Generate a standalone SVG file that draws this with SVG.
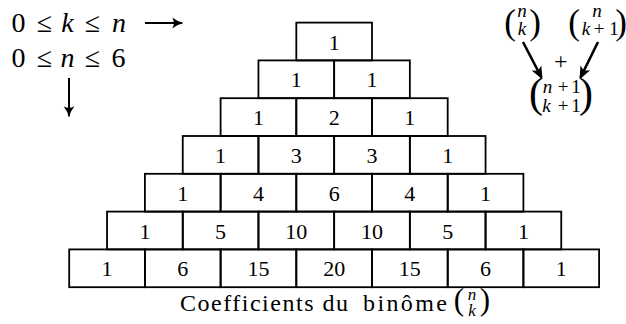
<svg xmlns="http://www.w3.org/2000/svg" width="626" height="324" viewBox="0 0 626 324">
<style>
svg text, #diagram text, text.s { font-family: 'Liberation Serif', 'Times New Roman', serif !important; fill: #000; }
.box rect { fill: none; stroke: #000; stroke-width: 1.8; }
.box text { font-size: 22px; text-anchor: middle; }
.m { text-anchor: middle; }
.i { font-style: italic; }
</style>
<defs>
<marker id="ah" viewBox="0 0 12 12" refX="10" refY="6" markerWidth="13" markerHeight="13" markerUnits="userSpaceOnUse" orient="auto">
<path d="M1,1 Q6,5 11.5,6 Q6,7 1,11 Q4,6 1,1 Z" fill="#000"/>
</marker>
<marker id="ah2" viewBox="0 0 12 12" refX="10" refY="6" markerWidth="13" markerHeight="13" markerUnits="userSpaceOnUse" orient="auto">
<path d="M0,1 L12,6 L0,11 L3,6 Z" fill="#000"/>
</marker>
</defs>
<rect width="626" height="324" fill="#fff"/>
<g id="diagram">
<g id="r0c0" class="box"><rect x="296.3" y="22.6" width="75.7" height="37.8"/><text class="s" x="334.15" y="49.6" font-family="Liberation Serif">1</text></g>

<g id="r1c0" class="box"><rect x="258.45" y="60.4" width="75.7" height="37.8"/><text class="s" x="296.3" y="87.4" font-family="Liberation Serif">1</text></g>
<g id="r1c1" class="box"><rect x="334.15" y="60.4" width="75.7" height="37.8"/><text class="s" x="372" y="87.4" font-family="Liberation Serif">1</text></g>

<g id="r2c0" class="box"><rect x="220.6" y="98.2" width="75.7" height="37.8"/><text class="s" x="258.45" y="125.2" font-family="Liberation Serif">1</text></g>
<g id="r2c1" class="box"><rect x="296.3" y="98.2" width="75.7" height="37.8"/><text class="s" x="334.15" y="125.2" font-family="Liberation Serif">2</text></g>
<g id="r2c2" class="box"><rect x="372" y="98.2" width="75.7" height="37.8"/><text class="s" x="409.85" y="125.2" font-family="Liberation Serif">1</text></g>

<g id="r3c0" class="box"><rect x="182.75" y="136" width="75.7" height="37.8"/><text class="s" x="220.6" y="163" font-family="Liberation Serif">1</text></g>
<g id="r3c1" class="box"><rect x="258.45" y="136" width="75.7" height="37.8"/><text class="s" x="296.3" y="163" font-family="Liberation Serif">3</text></g>
<g id="r3c2" class="box"><rect x="334.15" y="136" width="75.7" height="37.8"/><text class="s" x="372" y="163" font-family="Liberation Serif">3</text></g>
<g id="r3c3" class="box"><rect x="409.85" y="136" width="75.7" height="37.8"/><text class="s" x="447.7" y="163" font-family="Liberation Serif">1</text></g>

<g id="r4c0" class="box"><rect x="144.9" y="173.8" width="75.7" height="37.8"/><text class="s" x="182.75" y="200.8" font-family="Liberation Serif">1</text></g>
<g id="r4c1" class="box"><rect x="220.6" y="173.8" width="75.7" height="37.8"/><text class="s" x="258.45" y="200.8" font-family="Liberation Serif">4</text></g>
<g id="r4c2" class="box"><rect x="296.3" y="173.8" width="75.7" height="37.8"/><text class="s" x="334.15" y="200.8" font-family="Liberation Serif">6</text></g>
<g id="r4c3" class="box"><rect x="372" y="173.8" width="75.7" height="37.8"/><text class="s" x="409.85" y="200.8" font-family="Liberation Serif">4</text></g>
<g id="r4c4" class="box"><rect x="447.7" y="173.8" width="75.7" height="37.8"/><text class="s" x="485.55" y="200.8" font-family="Liberation Serif">1</text></g>

<g id="r5c0" class="box"><rect x="107.05" y="211.6" width="75.7" height="37.8"/><text class="s" x="144.9" y="238.6" font-family="Liberation Serif">1</text></g>
<g id="r5c1" class="box"><rect x="182.75" y="211.6" width="75.7" height="37.8"/><text class="s" x="220.6" y="238.6" font-family="Liberation Serif">5</text></g>
<g id="r5c2" class="box"><rect x="258.45" y="211.6" width="75.7" height="37.8"/><text class="s" x="296.3" y="238.6" font-family="Liberation Serif">10</text></g>
<g id="r5c3" class="box"><rect x="334.15" y="211.6" width="75.7" height="37.8"/><text class="s" x="372" y="238.6" font-family="Liberation Serif">10</text></g>
<g id="r5c4" class="box"><rect x="409.85" y="211.6" width="75.7" height="37.8"/><text class="s" x="447.7" y="238.6" font-family="Liberation Serif">5</text></g>
<g id="r5c5" class="box"><rect x="485.55" y="211.6" width="75.7" height="37.8"/><text class="s" x="523.4" y="238.6" font-family="Liberation Serif">1</text></g>

<g id="r6c0" class="box"><rect x="69.2" y="249.4" width="75.7" height="37.8"/><text class="s" x="107.05" y="276.4" font-family="Liberation Serif">1</text></g>
<g id="r6c1" class="box"><rect x="144.9" y="249.4" width="75.7" height="37.8"/><text class="s" x="182.75" y="276.4" font-family="Liberation Serif">6</text></g>
<g id="r6c2" class="box"><rect x="220.6" y="249.4" width="75.7" height="37.8"/><text class="s" x="258.45" y="276.4" font-family="Liberation Serif">15</text></g>
<g id="r6c3" class="box"><rect x="296.3" y="249.4" width="75.7" height="37.8"/><text class="s" x="334.15" y="276.4" font-family="Liberation Serif">20</text></g>
<g id="r6c4" class="box"><rect x="372" y="249.4" width="75.7" height="37.8"/><text class="s" x="409.85" y="276.4" font-family="Liberation Serif">15</text></g>
<g id="r6c5" class="box"><rect x="447.7" y="249.4" width="75.7" height="37.8"/><text class="s" x="485.55" y="276.4" font-family="Liberation Serif">6</text></g>
<g id="r6c6" class="box"><rect x="523.4" y="249.4" width="75.7" height="37.8"/><text class="s" x="561.25" y="276.4" font-family="Liberation Serif">1</text></g>

<g id="caption">
<text class="s" x="180" y="310.7" font-family="Liberation Serif" font-size="24" textLength="168" lengthAdjust="spacing">Coefficients du</text>
<text class="s" x="363" y="310.7" font-family="Liberation Serif" font-size="24" textLength="84" lengthAdjust="spacing">bin&#244;me</text>
<text class="s m" x="459" y="310" font-family="Liberation Serif" font-size="31">(</text>
<text class="s m i" x="472" y="300" font-family="Liberation Serif" font-size="17">n</text>
<text class="s m i" x="472" y="316" font-family="Liberation Serif" font-size="17">k</text>
<text class="s m" x="485" y="310" font-family="Liberation Serif" font-size="31">)</text>
</g>

<g id="ranges" font-size="28">
<text class="s m" x="18.5" y="32" font-family="Liberation Serif">0</text>
<text class="s m" x="44.5" y="32" font-family="Liberation Serif">&#8804;</text>
<text class="s m i" x="67.5" y="32" font-family="Liberation Serif">k</text>
<text class="s m" x="92.5" y="32" font-family="Liberation Serif">&#8804;</text>
<text class="s m i" x="119" y="32" font-family="Liberation Serif">n</text>
<text class="s m" x="18.5" y="67" font-family="Liberation Serif">0</text>
<text class="s m" x="44.5" y="67" font-family="Liberation Serif">&#8804;</text>
<text class="s m i" x="67.5" y="67" font-family="Liberation Serif">n</text>
<text class="s m" x="92.5" y="67" font-family="Liberation Serif">&#8804;</text>
<text class="s m" x="118.5" y="67" font-family="Liberation Serif">6</text>
</g>

<g id="binom-nk">
<text class="s m" x="510" y="33.7" font-family="Liberation Serif" font-size="35">(</text>
<text class="s m i" x="522" y="17" font-family="Liberation Serif" font-size="19">n</text>
<text class="s m i" x="522" y="35" font-family="Liberation Serif" font-size="19">k</text>
<text class="s m" x="535" y="33.7" font-family="Liberation Serif" font-size="35">)</text>
</g>
<g id="binom-nk1">
<text class="s m" x="574" y="33.7" font-family="Liberation Serif" font-size="35">(</text>
<text class="s m i" x="597" y="17" font-family="Liberation Serif" font-size="19">n</text>
<text class="s m i" x="586" y="35" font-family="Liberation Serif" font-size="19">k</text>
<text class="s m" x="599" y="35" font-family="Liberation Serif" font-size="19">+</text>
<text class="s m" x="614" y="35" font-family="Liberation Serif" font-size="19">1</text>
<text class="s m" x="621" y="33.7" font-family="Liberation Serif" font-size="35">)</text>
</g>
<g id="plus"><text class="s m" x="560.7" y="68.5" font-family="Liberation Serif" font-size="24">+</text></g>
<g id="binom-n1k1">
<text class="s m" x="536" y="106.6" font-family="Liberation Serif" font-size="42">(</text>
<text class="s m i" x="547.5" y="93.3" font-family="Liberation Serif" font-size="19">n</text>
<text class="s m" x="563" y="93.3" font-family="Liberation Serif" font-size="19">+</text>
<text class="s m" x="576" y="93.3" font-family="Liberation Serif" font-size="19">1</text>
<text class="s m i" x="546.5" y="111.7" font-family="Liberation Serif" font-size="19">k</text>
<text class="s m" x="563" y="111.7" font-family="Liberation Serif" font-size="19">+</text>
<text class="s m" x="576" y="111.7" font-family="Liberation Serif" font-size="19">1</text>
<text class="s m" x="586" y="106.6" font-family="Liberation Serif" font-size="42">)</text>
</g>

<g id="connectors" stroke="#000">
<line x1="145" y1="23" x2="182" y2="23" stroke-width="2" marker-end="url(#ah)"/>
<line x1="69" y1="78" x2="69" y2="116" stroke-width="2" marker-end="url(#ah)"/>
<line x1="523" y1="42" x2="541.5" y2="77.5" stroke-width="2.6" marker-end="url(#ah2)"/>
<line x1="598" y1="42" x2="580.5" y2="77.5" stroke-width="2.6" marker-end="url(#ah2)"/>
</g>
</g>
</svg>
